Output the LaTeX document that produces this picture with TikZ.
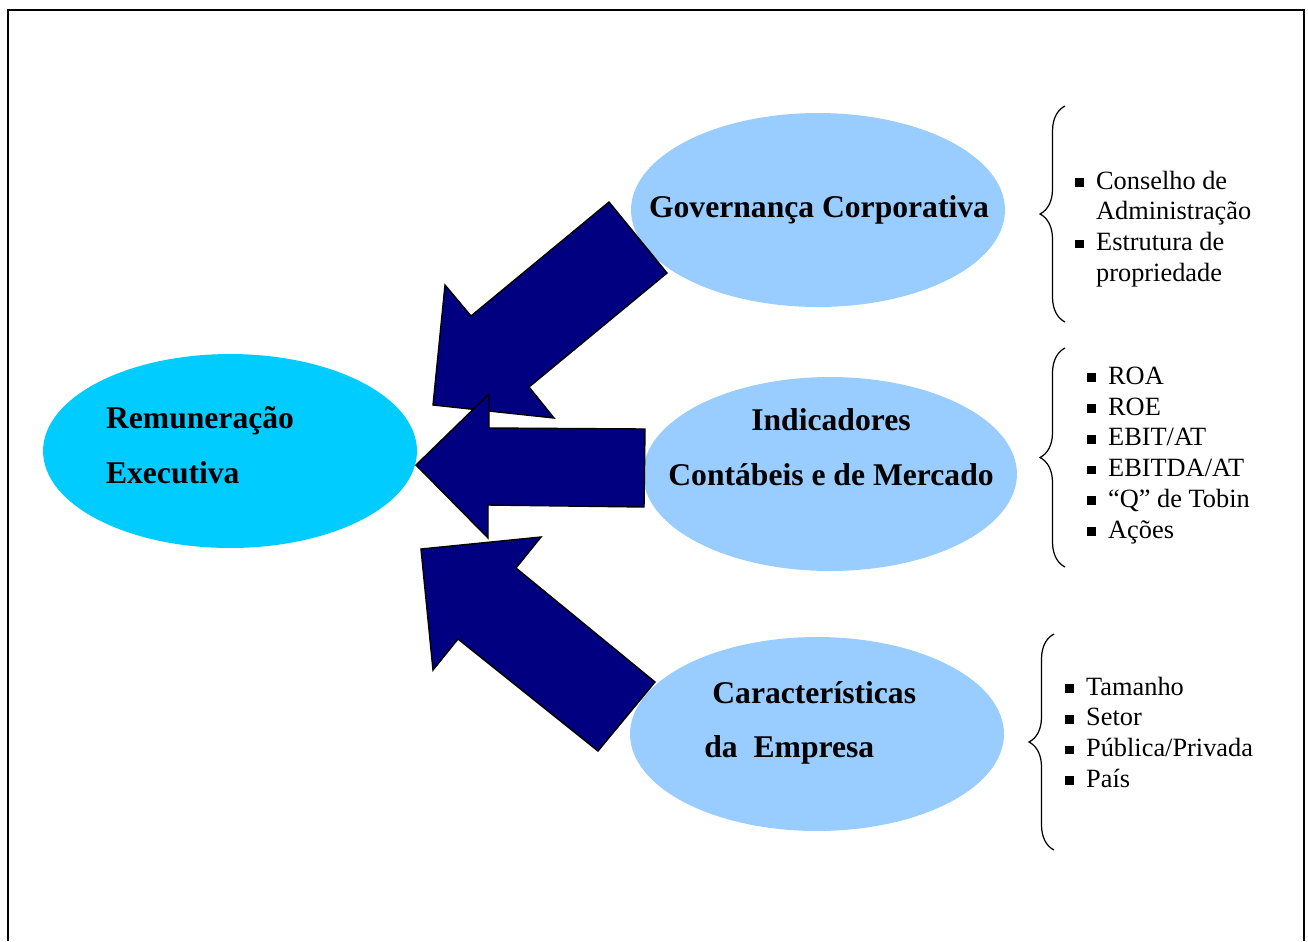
\documentclass[tikz,border=0pt]{standalone}
\usepackage{fontspec}
\setmainfont{Liberation Serif}
\usetikzlibrary{shapes,arrows,positioning,calc,decorations.pathreplacing}
\definecolor{navy}{RGB}{0,0,128}
\definecolor{cyanfill}{RGB}{0,204,255}
\definecolor{paleblue}{RGB}{153,204,255}
\newcommand{\sqbul}{\rule[0.18ex]{5pt}{5pt}}

\begin{document}
\begin{tikzpicture}[x=0.02cm, y=-0.02cm,
    blob/.style={ellipse, minimum width=7.48cm, minimum height=3.88cm, inner sep=0pt},
    lbl/.style={font=\fontsize{18}{31}\selectfont\bfseries, inner sep=0pt},
    itemlist/.style={font=\fontsize{15}{17.5}\selectfont, inner sep=0pt, anchor=west},
    bigarrow/.style={fill=navy, draw=black, line width=0.8pt, line join=miter},
    curly/.style={decorate, decoration={brace, amplitude=0.5cm}, line width=0.7pt}]
    \useasboundingbox (0,0) rectangle (1308,941);
    % frame, open at the bottom
    \draw [line width=1.2pt] (8,941) -- (8,10) -- (1304,10) -- (1304,941);

    \node [blob, fill=cyanfill] (rem) at (230,451) {};
    \node [blob, fill=paleblue] (gov) at (818,210) {};
    \node [blob, fill=paleblue] (ind) at (830,474) {};
    \node [blob, fill=paleblue] (car) at (817,734) {};

    % block arrows
    \draw [bigarrow] (609,202) -- (667,273) -- (529,387) -- (554,418) -- (433,405) -- (445,285) -- (471,316) -- cycle;
    \draw [bigarrow] (645,429) -- (644,507) -- (488,505) -- (488,538) -- (416,465) -- (489,394) -- (489,428) -- cycle;
    \draw [bigarrow] (655,682) -- (598,751) -- (458,639) -- (433,670) -- (421,549) -- (541,537) -- (516,568) -- cycle;

    \node [lbl, anchor=west, align=left] (remtxt) at ($(rem.west)+(63,-6)$) {Remuneração\\Executiva};
    \node [lbl] (govtxt) at ($(gov.center)+(1,0)$) {Governança Corporativa};
    \node [lbl, align=center] (indtxt) at ($(ind.center)+(1,-27)$) {Indicadores\\Contábeis e de Mercado};
    \node [lbl, anchor=west, align=left] (cartxt) at ($(car.center)+(-113,-11)$) {\hspace*{0.16cm}Características\\da\ \ Empresa};

    \draw [curly] (1065,322) -- (1065,106);
    \draw [curly] (1065,567) -- (1065,348);
    \draw [curly] (1054,850) -- (1054,634);

    \node [itemlist] (govlist) at (1075,229) {\begin{tabular}{@{}l@{\hspace{0.24cm}}l@{}}
        \sqbul & Conselho de\\ & Administração\\ \sqbul & Estrutura de\\ & propriedade
    \end{tabular}};
    \node [itemlist] (indlist) at (1087,455) {\begin{tabular}{@{}l@{\hspace{0.24cm}}l@{}}
        \sqbul & ROA\\ \sqbul & ROE\\ \sqbul & EBIT/AT\\ \sqbul & EBITDA/AT\\ \sqbul & “Q” de Tobin\\ \sqbul & Ações
    \end{tabular}};
    \node [itemlist] (carlist) at (1065,735) {\begin{tabular}{@{}l@{\hspace{0.24cm}}l@{}}
        \sqbul & Tamanho\\ \sqbul & Setor\\ \sqbul & Pública/Privada\\ \sqbul & País
    \end{tabular}};
\end{tikzpicture}
\end{document}
